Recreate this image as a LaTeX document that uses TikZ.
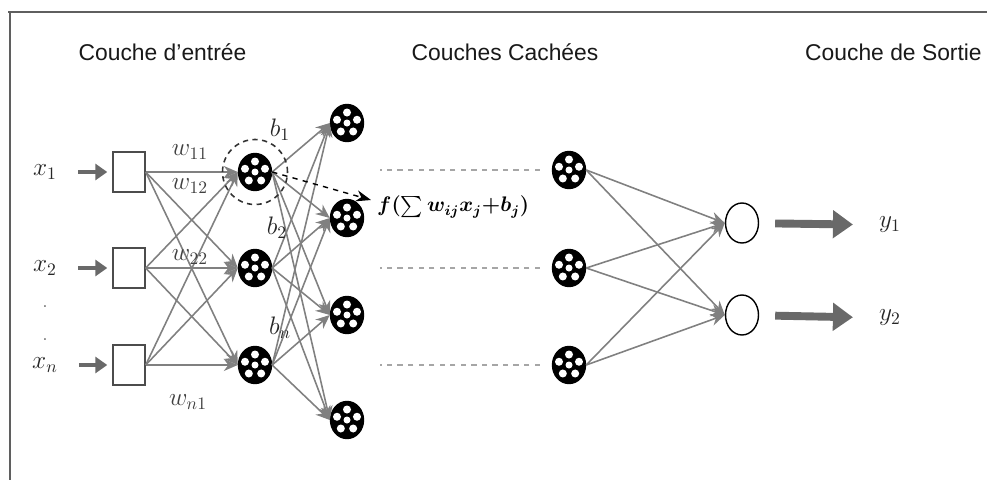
\documentclass[tikz,border=0pt]{standalone}
\usepackage{fontspec}
\setmainfont{Liberation Sans}
\usepackage{amsmath}
\usetikzlibrary{arrows.meta,positioning,calc,shapes.geometric}
\definecolor{lnkgray}{RGB}{128,128,128}
\definecolor{arrgray}{RGB}{105,105,105}
\definecolor{framegray}{RGB}{95,95,95}
\tikzset{
  ttl/.style={font=\fontsize{13}{15}\selectfont, text=black!90},
  inbox/.style={draw=black!70, thick, fill=white, minimum width=6.4mm, minimum height=8mm, inner sep=0pt},
  hnode/.style={ellipse, draw=black, thick, fill=black, inner sep=0pt, minimum width=6.6mm, minimum height=7.4mm,
    path picture={
      \fill[white] (path picture bounding box.center) circle (0.7mm);
      \foreach \a in {18,90,162,234,306}
        \fill[white] ([shift={(\a:2.1mm)}]path picture bounding box.center) circle (0.8mm);}},
  onode/.style={ellipse, draw=black, thick, fill=white, inner sep=0pt, minimum width=6.6mm, minimum height=8mm},
  lnk/.style={-{Stealth[length=2.8mm, width=2.4mm]}, lnkgray, line width=0.9pt},
  fat/.style={-{Triangle[length=2.4mm, width=3.2mm]}, arrgray, line width=2.8pt},
  fatout/.style={-{Triangle[length=4mm, width=5.4mm]}, arrgray, line width=4.5pt},
  gap/.style={lnkgray!70, dash pattern=on 3pt off 3pt, line width=0.6pt},
  ring/.style={circle, draw=black!80, dash pattern=on 3pt off 2.5pt, line width=0.9pt, minimum size=13mm, inner sep=0pt},
  vlab/.style={font=\Large, text=black!85},
  wlab/.style={font=\Large, text=black!75},
  frm/.style={framegray, line width=1.4pt},
}

\begin{document}
\begin{tikzpicture}
\useasboundingbox (0,0) rectangle (19.74,9.6);
\draw[frm] (0.16,9.36) -- (19.74,9.36);
\draw[frm] (0.2,9.36) -- (0.2,0);

\node[ttl] (tin) at (3.25,8.56) {Couche d'entrée};
\node[ttl] (thid) at (10.1,8.56) {Couches Cachées};
\node[ttl, anchor=west] (tout) at (15.98,8.56) {Couche de Sortie};

\node[vlab] (lx1) at (0.9,6.16) {$x_1$};
\node[vlab] (lx2) at (0.9,4.24) {$x_2$};
\node[vlab] (lxn) at (0.9,2.3) {$x_n$};
\node[text=black!50] (ld1) at (0.9,3.46) {.};
\node[text=black!50] (ld2) at (0.9,2.8) {.};

\foreach \i/\y in {1/6.16, 2/4.24, 3/2.3}
  \node[inbox] (e\i) at (2.58,\y) {};
\foreach \l/\i in {x1/1, x2/2, xn/3}
  \draw[fat, shorten <=0.3cm, shorten >=0.1cm] (l\l) -- (e\i);

\foreach \i/\y in {1/6.16, 2/4.24, 3/2.3}
  \node[hnode] (ha\i) at (5.1,\y) {};
\foreach \i/\y in {1/7.14, 2/5.24, 3/3.3, 4/1.2}
  \node[hnode] (hb\i) at (6.94,\y) {};
\foreach \i/\y in {1/6.2, 2/4.24, 3/2.3}
  \node[hnode] (hc\i) at (11.38,\y) {};
\node[onode] (s1) at (14.84,5.14) {};
\node[onode] (s2) at (14.84,3.3) {};

\foreach \i in {1,2,3}
  \foreach \j in {1,2,3}
    \draw[lnk] (e\i.east) -- (ha\j.west);
\foreach \i in {1,2,3}
  \foreach \j in {1,2,3,4}
    \draw[lnk] (ha\i.east) -- (hb\j.west);
\foreach \i in {1,2,3}
  \foreach \j in {1,2}
    \draw[lnk] (hc\i.east) -- (s\j.west);
\foreach \i in {1,2,3}
  \draw[gap] ([xshift=-0.24cm]hc\i.west) -- ++(-3.2,0);

\node[ring] (rg) at (ha1) {};
\node[wlab] (lw11) at (3.8,6.56) {$w_{11}$};
\node[wlab] (lw12) at (3.8,5.88) {$w_{12}$};
\node[wlab] (lw22) at (3.8,4.46) {$w_{22}$};
\node[wlab] (lwn1) at (3.76,1.56) {$w_{n1}$};
\node[vlab] (lb1) at (5.6,7.0) {$b_1$};
\node[vlab] (lb2) at (5.54,5.04) {$b_2$};
\node[vlab] (lbn) at (5.6,3.04) {$b_n$};

\node[font=\large, anchor=west] (fx) at (7.42,5.46) {$\boldsymbol{f(\sum w_{ij}x_j{+}b_j)}$};
\draw[dashed, thick, -{Stealth[length=3mm]}] (ha1.east) -- ([yshift=0.14cm]fx.west);

\node[vlab] (ly1) at (17.8,5.1) {$y_1$};
\node[vlab] (ly2) at (17.8,3.24) {$y_2$};
\draw[fatout, shorten <=0.32cm, shorten >=0.4cm] (s1) -- (ly1);
\draw[fatout, shorten <=0.32cm, shorten >=0.4cm] (s2) -- (ly2);
\end{tikzpicture}
\end{document}
